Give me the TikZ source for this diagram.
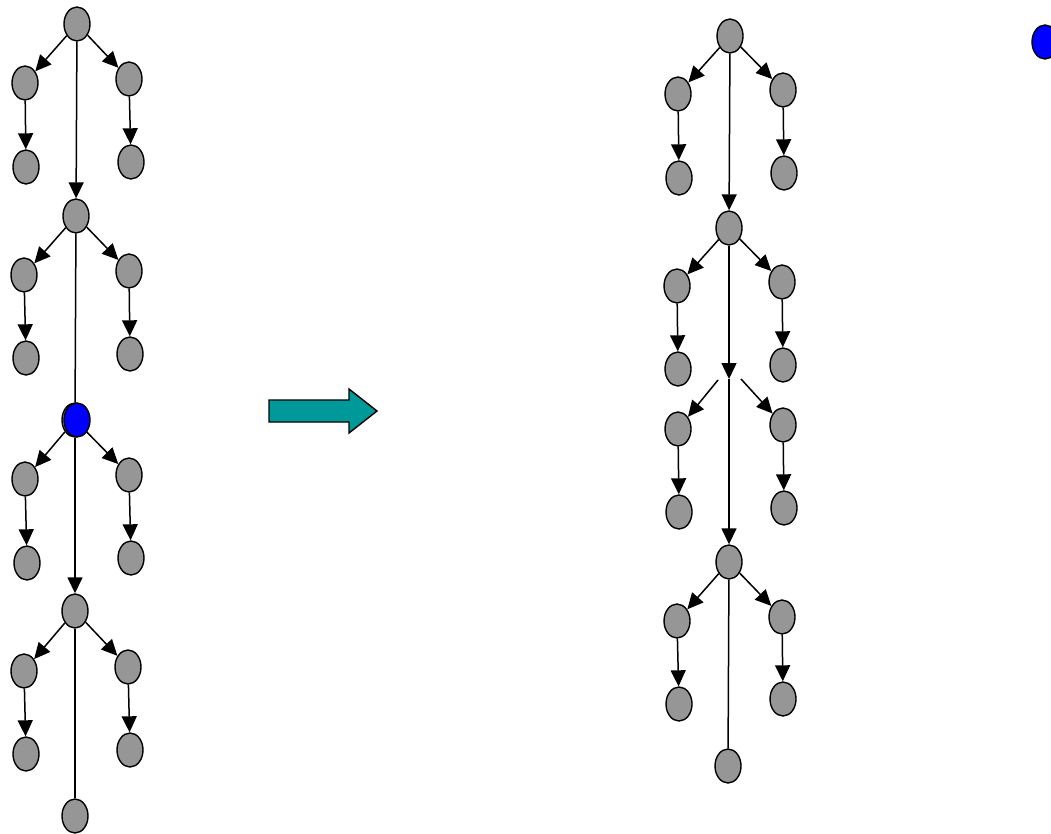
\documentclass[tikz,border=0pt]{standalone}
\usetikzlibrary{arrows.meta,shapes.geometric}
\definecolor{nodegray}{RGB}{150,150,150}
\definecolor{tealarrow}{RGB}{0,153,153}
\begin{document}
\begin{tikzpicture}[x=1pt,y=-1pt,
  gnode/.style={ellipse,draw=black,line width=1.4pt,fill=nodegray,minimum width=26pt,minimum height=34pt,inner sep=0pt},
  bnode/.style={gnode,fill=blue},
  arr/.style={line width=1.5pt,-{Triangle[length=16pt,width=15pt]}},
  plain/.style={line width=1.5pt}]
\clip (0,0) rectangle (1051,834);
\fill[white] (0,0) rectangle (1051,834);
% ---------- left column ----------
\node[gnode] (A1) at (77,24) {};
\node[gnode] (A1L) at (25,83) {};
\node[gnode] (A1R) at (129,79) {};
\node[gnode] (A1LL) at (26,167) {};
\node[gnode] (A1RR) at (131,162) {};
\node[gnode] (A2) at (76,216) {};
\node[gnode] (A2L) at (24,275) {};
\node[gnode] (A2R) at (129,271) {};
\node[gnode] (A2LL) at (26,358) {};
\node[gnode] (A2RR) at (130,354) {};
\node[gnode] (A3g) at (75,420) {};
\node[gnode] (A3L) at (25,479) {};
\node[gnode] (A3R) at (129,475) {};
\node[gnode] (A3LL) at (27,563) {};
\node[gnode] (A3RR) at (131,558) {};
\node[gnode] (A4) at (75,611) {};
\node[gnode] (A4L) at (24,671) {};
\node[gnode] (A4R) at (128,667) {};
\node[gnode] (A4LL) at (26,754) {};
\node[gnode] (A4RR) at (130,750) {};
\node[gnode] (A5) at (75,816) {};
\draw[arr] (A1) -- (A1L);
\draw[arr] (A1) -- (A1R);
\draw[arr] (A1L) -- (A1LL);
\draw[arr] (A1R) -- (A1RR);
\draw[arr] (A1) -- (A2);
\draw[arr] (A2) -- (A2L);
\draw[arr] (A2) -- (A2R);
\draw[arr] (A2L) -- (A2LL);
\draw[arr] (A2R) -- (A2RR);
\draw[plain] (A2) -- (A3g);
\draw[arr] (A3g) -- (A3L);
\draw[arr] (A3g) -- (A3R);
\draw[arr] (A3L) -- (A3LL);
\draw[arr] (A3R) -- (A3RR);
\draw[arr] (A3g) -- (A4);
\draw[arr] (A4) -- (A4L);
\draw[arr] (A4) -- (A4R);
\draw[arr] (A4L) -- (A4LL);
\draw[arr] (A4R) -- (A4RR);
\draw[plain] (A4) -- (A5);
\node[bnode] (A3) at (77,420) {};
% ---------- transformation arrow ----------
\filldraw[fill=tealarrow,draw=black,line width=1.4pt]
  (269,400) -- (349,400) -- (349,389) -- (377,411) -- (349,433) -- (349,422) -- (269,422) -- cycle;
% ---------- right column ----------
\node[gnode] (B1) at (730,36) {};
\node[gnode] (B1L) at (678,94) {};
\node[gnode] (B1R) at (783,90) {};
\node[gnode] (B1LL) at (679,178) {};
\node[gnode] (B1RR) at (784,173) {};
\node[gnode] (B2) at (729,228) {};
\node[gnode] (B2L) at (677,286) {};
\node[gnode] (B2R) at (782,282) {};
\node[gnode] (B2LL) at (678,369) {};
\node[gnode] (B2RR) at (783,365) {};
\coordinate (B3) at (729,379);
\coordinate (B3a) at (718,380);
\coordinate (B3b) at (741,379);
\node[gnode] (B3L) at (678,429) {};
\node[gnode] (B3R) at (783,425) {};
\node[gnode] (B3LL) at (679,512) {};
\node[gnode] (B3RR) at (784,508) {};
\node[gnode] (B4) at (729,562) {};
\node[gnode] (B4L) at (677,621) {};
\node[gnode] (B4R) at (782,617) {};
\node[gnode] (B4LL) at (679,704) {};
\node[gnode] (B4RR) at (783,699) {};
\node[gnode] (B5) at (728,766) {};
\draw[arr] (B1) -- (B1L);
\draw[arr] (B1) -- (B1R);
\draw[arr] (B1L) -- (B1LL);
\draw[arr] (B1R) -- (B1RR);
\draw[arr] (B1) -- (B2);
\draw[arr] (B2) -- (B2L);
\draw[arr] (B2) -- (B2R);
\draw[arr] (B2L) -- (B2LL);
\draw[arr] (B2R) -- (B2RR);
\draw[arr] (B2) -- (B3);
\draw[arr] (B3a) -- (B3L);
\draw[arr] (B3b) -- (B3R);
\draw[arr] (B3L) -- (B3LL);
\draw[arr] (B3R) -- (B3RR);
\draw[arr] (B3) -- (B4);
\draw[arr] (B4) -- (B4L);
\draw[arr] (B4) -- (B4R);
\draw[arr] (B4L) -- (B4LL);
\draw[arr] (B4R) -- (B4RR);
\draw[plain] (B4) -- (B5);
% ---------- removed node ----------
\node[bnode] (Bx) at (1045,42) {};
\end{tikzpicture}
\end{document}
